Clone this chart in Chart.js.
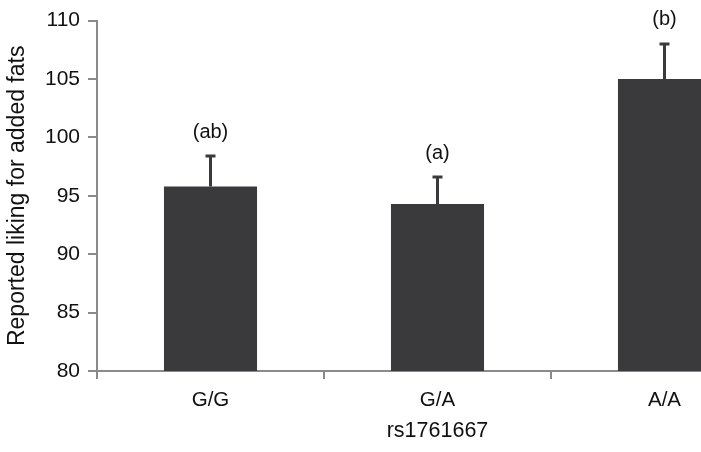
<!DOCTYPE html>
<html>
<head>
<meta charset="utf-8">
<script src="https://cdn.jsdelivr.net/npm/chart.js@4/dist/chart.umd.min.js"></script>
<style>
  html, body { margin: 0; padding: 0; overflow: hidden; background: #fff; }
  #wrap { width: 790px; height: 452px; }
</style>
</head>
<body>
<div id="wrap"><canvas id="chart"></canvas></div>
<script>
'use strict';

// data
var genotypes = ['G/G', 'G/A', 'A/A'];
var liking = [95.8, 94.3, 105.0];
var errorTop = [98.4, 96.6, 108.0];
var letters = ['(ab)', '(a)', '(b)'];
var yTicks = [80, 85, 90, 95, 100, 105, 110];

var FONT = '"Liberation Sans", Arial, Helvetica, sans-serif';
var AXIS = '#8a8a8a';

// error bars + significance letters
var errorBars = {
    id: 'errorBars',
    afterDatasetsDraw: function(chart) {
        var ctx = chart.ctx;
        var y = chart.scales.y;
        var meta = chart.getDatasetMeta(0);
        ctx.save();
        ctx.strokeStyle = '#3a3a3c';
        ctx.lineWidth = 3;
        ctx.fillStyle = '#111';
        ctx.font = '20px ' + FONT;
        ctx.textAlign = 'center';
        ctx.textBaseline = 'middle';
        meta.data.forEach(function(bar, i) {
            var yb = y.getPixelForValue(liking[i]);
            var yt = y.getPixelForValue(errorTop[i]);
            ctx.beginPath();
            ctx.moveTo(bar.x, yb);
            ctx.lineTo(bar.x, yt);
            ctx.moveTo(bar.x - 5, yt);
            ctx.lineTo(bar.x + 5, yt);
            ctx.stroke();
            ctx.fillText(letters[i], bar.x, yt - 24);
        });
        ctx.restore();
    }
};

var ctx = document.getElementById('chart').getContext('2d');
new Chart(ctx, {
    type: 'bar',
    data: {
        labels: genotypes,
        datasets: [{
            data: liking,
            backgroundColor: '#3a3a3c',
            borderWidth: 0,
            categoryPercentage: 1,
            barPercentage: 0.41
        }]
    },
    options: {
        responsive: true,
        maintainAspectRatio: false,
        animation: false,
        layout: { padding: { left: 4, right: 12, top: 18, bottom: 6 } },
        plugins: { legend: { display: false }, tooltip: { enabled: false } },
        scales: {
            x: {
                grid: { display: true, drawOnChartArea: false, tickLength: 8, color: AXIS, lineWidth: 2 },
                border: { color: AXIS, width: 2 },
                ticks: { color: '#111', font: { family: FONT, size: 20.5 }, padding: 9 },
                title: { display: true, text: 'rs1761667', color: '#111', font: { family: FONT, size: 21.5 }, padding: { top: 2, bottom: 2 } },
                afterFit: function(s) { s.height = 75; }
            },
            y: {
                min: 80,
                max: 110,
                afterBuildTicks: function(s) { s.ticks = yTicks.map(function(v) { return { value: v }; }); },
                grid: { display: true, drawOnChartArea: false, tickLength: 9, color: AXIS, lineWidth: 2 },
                border: { color: AXIS, width: 2 },
                ticks: { color: '#111', font: { family: FONT, size: 21 }, padding: 8 },
                title: { display: true, text: 'Reported liking for added fats', color: '#111', font: { family: FONT, size: 23 }, padding: { top: 0, bottom: 0 } },
                afterFit: function(s) { s.width = 93; }
            }
        }
    },
    plugins: [errorBars]
});
</script>
</body>
</html>
